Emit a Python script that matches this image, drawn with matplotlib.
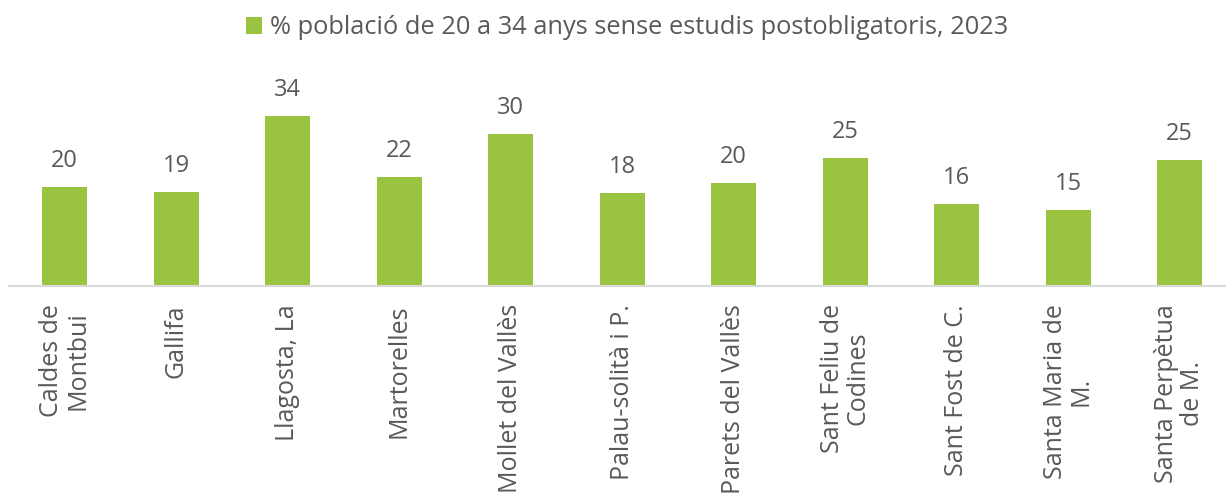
import matplotlib
matplotlib.use("Agg")
import matplotlib.pyplot as plt
from matplotlib.patches import Patch

categories = ["Caldes de\nMontbui", "Gallifa", "Llagosta, La", "Martorelles",
              "Mollet del Vallès", "Palau-solità i P.", "Parets del Vallès",
              "Sant Feliu de\nCodines", "Sant Fost de C.", "Santa Maria de\nM.",
              "Santa Perpètua\nde M."]
values = [19.7, 18.6, 33.6, 21.6, 30.1, 18.4, 20.4, 25.4, 16.2, 15.1, 24.9]
series_name = "% població de 20 a 34 anys sense estudis postobligatoris, 2023"

GREEN = "#9AC33F"
TEXT = "#595959"
FONT = ["Open Sans", "DejaVu Sans"]
plt.rcParams["font.family"] = FONT

W, H = 1226, 495
fig = plt.figure(figsize=(W / 100, H / 100), dpi=100)
base_y = 286
top_y = base_y - 40 * 5.05
left_px = 9
ax = fig.add_axes([left_px / W, (H - base_y) / H, (W - left_px) / W, (base_y - top_y) / H])

x = list(range(len(categories)))
bars = ax.bar(x, values, width=0.40, color=GREEN, zorder=2)
for xi, v in zip(x, values):
    ax.annotate(f"{v:.0f}", (xi, v), xytext=(0, 10), textcoords="offset points",
                ha="center", va="bottom", fontsize=17, color=TEXT)

ax.set_ylim(0, 40)
cat_w = 111.5
ax.set_xlim(-0.5, -0.5 + (W - left_px) / cat_w)
ax.set_xticks(x)
ax.set_xticklabels(categories, rotation=90, fontsize=18, color=TEXT,
                   ha="center", va="top", multialignment="center", linespacing=1.05)
ax.tick_params(axis="x", length=0, pad=13)
ax.set_yticks([])
for s in ["top", "right", "left"]:
    ax.spines[s].set_visible(False)
ax.spines["bottom"].set_color("#D9D9D9")
ax.spines["bottom"].set_linewidth(1.5)

handle = Patch(facecolor=GREEN, edgecolor="none")
fig.legend([handle], [series_name], loc="center", bbox_to_anchor=(627 / W, 1 - 28 / H),
           frameon=False, fontsize=18.3, labelcolor=TEXT, handlelength=0.65,
           handleheight=0.65, handletextpad=0.3)

fig.savefig("out.png", dpi=100)
